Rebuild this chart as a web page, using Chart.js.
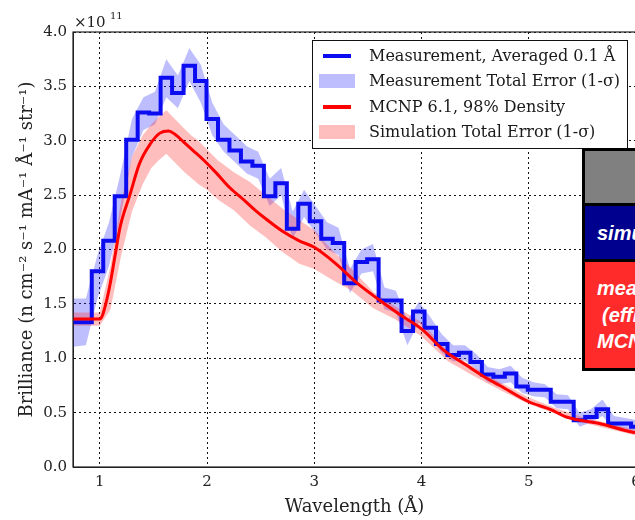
<!DOCTYPE html>
<html lang="en">
<head>
<meta charset="UTF-8">
<title>Brilliance vs Wavelength</title>
<script src="https://cdn.jsdelivr.net/npm/chart.js"></script>
<style>
  body { margin: 0; width: 635px; height: 520px; overflow: hidden; background: #fff; position: relative; }
  #wrap { position: absolute; left: 0; top: 0; width: 660px; height: 520px; }
  .boxes { position: absolute; left: 582px; top: 148px; width: 120px; height: 223px;
           background: #000; box-sizing: border-box; padding: 3px; display: flex; flex-direction: column; gap: 3px; }
  .boxes div { width: 100%; }
  .note { position: absolute; color: #fff; font: italic bold 20px "Liberation Sans", Arial, sans-serif;
          line-height: 20px; white-space: nowrap; }
</style>
</head>
<body>
<div id="wrap"><canvas id="chart" width="660" height="520"></canvas></div>

<div class="boxes">
  <div style="height:52px;background:#808080"></div>
  <div style="height:53px;background:#00008f"></div>
  <div style="height:106px;background:#ff2a2a"></div>
</div>
<div class="note" style="left:597px;top:223px">simulation</div>
<div class="note" style="left:597px;top:278px">measured</div>
<div class="note" style="left:602px;top:305px">(efficiency</div>
<div class="note" style="left:597px;top:331px">MCNP</div>

<script>
// all brilliance values in units of 1e11
const xTicks = [1, 2, 3, 4, 5, 6];
const yTicks = [0.0, 0.5, 1.0, 1.5, 2.0, 2.5, 3.0, 3.5, 4.0];

// measurement, 0.1 A averaged bins (bin start edge -> value)
const binEdges = [0.70, 0.925, 1.032, 1.139, 1.246, 1.353, 1.460, 1.567, 1.674, 1.781,
  1.888, 1.995, 2.102, 2.209, 2.316, 2.423, 2.530, 2.637, 2.744, 2.851,
  2.958, 3.065, 3.172, 3.279, 3.386, 3.493, 3.600, 3.707, 3.814, 3.921,
  4.028, 4.135, 4.242, 4.349, 4.456, 4.563, 4.670, 4.777, 4.884, 4.991,
  5.098, 5.205, 5.312, 5.419, 5.526, 5.633, 5.740, 5.847, 5.954, 6.061, 6.168];
const measured = [1.33, 1.80, 2.08, 2.49, 3.01, 3.26, 3.25, 3.58, 3.44, 3.69,
  3.55, 3.20, 3.01, 2.91, 2.81, 2.77, 2.49, 2.61, 2.19, 2.42,
  2.26, 2.10, 2.06, 1.69, 1.885, 1.91, 1.53, 1.53, 1.25, 1.43,
  1.28, 1.13, 1.03, 1.05, 0.966, 0.85, 0.83, 0.86, 0.74, 0.71,
  0.71, 0.60, 0.60, 0.43, 0.46, 0.53, 0.40, 0.40, 0.37, 0.36, 0.36];

// measurement total error band
const measBandX = [0.70, 0.87, 0.978, 1.086, 1.193, 1.30, 1.407, 1.514, 1.62, 1.728,
  1.835, 1.942, 2.049, 2.156, 2.263, 2.37, 2.477, 2.584, 2.691, 2.798,
  2.905, 3.012, 3.119, 3.226, 3.333, 3.44, 3.547, 3.654, 3.761, 3.868,
  3.975, 4.082, 4.189, 4.296, 4.403, 4.51, 4.617, 4.724, 4.831, 4.938,
  5.045, 5.152, 5.259, 5.366, 5.473, 5.58, 5.687, 5.794, 5.901, 6.008, 6.12];
const measBandLow = [1.10, 1.12, 1.55, 1.85, 2.30, 2.85, 3.10, 3.15, 3.40, 3.30,
  3.55, 3.35, 3.05, 2.90, 2.80, 2.70, 2.65, 2.40, 2.50, 2.10,
  2.30, 2.15, 2.00, 1.95, 1.60, 1.78, 1.80, 1.45, 1.42, 1.12,
  1.33, 1.20, 1.05, 0.97, 0.98, 0.90, 0.78, 0.76, 0.78, 0.68,
  0.65, 0.64, 0.54, 0.53, 0.37, 0.41, 0.47, 0.35, 0.34, 0.32, 0.31];
const measBandHigh = [1.55, 1.55, 1.95, 2.25, 2.70, 3.20, 3.40, 3.45, 3.75, 3.60,
  3.85, 3.70, 3.35, 3.15, 3.05, 2.95, 2.90, 2.65, 2.75, 2.35,
  2.55, 2.40, 2.25, 2.20, 1.82, 2.00, 2.05, 1.65, 1.62, 1.35,
  1.52, 1.38, 1.22, 1.12, 1.12, 1.04, 0.92, 0.90, 0.93, 0.82,
  0.78, 0.76, 0.67, 0.66, 0.50, 0.53, 0.62, 0.47, 0.45, 0.43, 0.42];

// MCNP 6.1 simulation
const simX = [0.70, 1.00, 1.03, 1.09, 1.14, 1.19, 1.28, 1.37, 1.47, 1.56,
  1.64, 1.70, 1.78, 1.87, 1.96, 2.09, 2.21, 2.35, 2.45, 2.55,
  2.70, 2.86, 3.00, 3.20, 3.40, 3.60, 3.80, 4.00, 4.20, 4.42,
  4.60, 4.73, 5.00, 5.20, 5.35, 5.66, 5.97, 6.20];
const simY = [1.36, 1.36, 1.41, 1.65, 1.93, 2.21, 2.50, 2.79, 2.97, 3.07,
  3.09, 3.06, 2.99, 2.91, 2.83, 2.70, 2.57, 2.45, 2.36, 2.28,
  2.17, 2.08, 2.02, 1.87, 1.69, 1.54, 1.40, 1.27, 1.08, 0.935,
  0.82, 0.75, 0.60, 0.53, 0.46, 0.40, 0.32, 0.29];

// simulation total error band
const simBandX = [0.70, 1.00, 1.10, 1.20, 1.30, 1.40, 1.48, 1.55, 1.62, 1.70,
  1.78, 1.85, 1.92, 2.00, 2.10, 2.25, 2.40, 2.55, 2.70, 2.86,
  3.00, 3.17, 3.35, 3.55, 3.75, 4.00, 4.25, 4.50, 4.75, 5.00,
  5.25, 5.50, 5.75, 6.00, 6.20];
const simBandLow = [1.30, 1.30, 1.45, 1.95, 2.35, 2.60, 2.75, 2.82, 2.88, 2.80,
  2.72, 2.66, 2.60, 2.55, 2.46, 2.36, 2.22, 2.11, 1.98, 1.87,
  1.82, 1.72, 1.62, 1.46, 1.36, 1.20, 0.97, 0.83, 0.70, 0.58,
  0.49, 0.41, 0.35, 0.29, 0.26];
const simBandHigh = [1.42, 1.42, 1.85, 2.45, 2.85, 3.05, 3.15, 3.22, 3.28, 3.20,
  3.12, 3.05, 3.00, 2.92, 2.82, 2.71, 2.62, 2.50, 2.38, 2.27,
  2.18, 1.99, 1.82, 1.61, 1.48, 1.33, 1.06, 0.91, 0.77, 0.64,
  0.54, 0.46, 0.40, 0.34, 0.31];

const legendLabels = [
  'Measurement, Averaged 0.1 \u00c5',
  'Measurement Total Error (1-\u03c3)',
  'MCNP 6.1, 98% Density',
  'Simulation Total Error (1-\u03c3)'
];

const blueLine = '#0c0cf0';
const redLine = '#ff0000';
const blueFill = 'rgba(40, 40, 255, 0.30)';
const redFill = 'rgba(255, 40, 40, 0.30)';
const serif = '"DejaVu Serif", serif';

function pts(xs, ys) { return xs.map((x, i) => ({ x: x, y: ys[i] })); }

const frameAndLegend = {
  id: 'frameAndLegend',
  afterDraw(chart) {
    const ctx = chart.ctx;
    const a = chart.chartArea;
    ctx.save();
    // axes frame
    ctx.strokeStyle = '#222';
    ctx.lineWidth = 1.2;
    ctx.strokeRect(a.left, a.top, a.right - a.left, a.bottom - a.top);

    // offset text
    ctx.fillStyle = '#222';
    ctx.textBaseline = 'alphabetic';
    ctx.font = '15px ' + serif;
    ctx.fillText('\u00d710', 74, 27);
    ctx.font = '10px ' + serif;
    ctx.fillText('11', 110, 19);

    // legend box
    ctx.fillStyle = '#fff';
    ctx.fillRect(312, 40, 315, 108);
    ctx.strokeStyle = '#111';
    ctx.lineWidth = 1;
    ctx.strokeRect(312.5, 40.5, 315, 108);
    const rows = [56, 81, 107, 132];
    const kinds = [
      { line: blueLine }, { fill: blueFill }, { line: redLine }, { fill: redFill }
    ];
    ctx.font = '16px ' + serif;
    ctx.textBaseline = 'middle';
    legendLabels.forEach((txt, i) => {
      const y = rows[i];
      const k = kinds[i];
      if (k.line) {
        ctx.strokeStyle = k.line;
        ctx.lineWidth = 4;
        ctx.beginPath();
        ctx.moveTo(323, y);
        ctx.lineTo(351, y);
        ctx.stroke();
      } else {
        ctx.fillStyle = k.fill;
        ctx.fillRect(319, y - 7, 36, 14);
      }
      ctx.fillStyle = '#1a1a1a';
      ctx.fillText(txt, 369, y + 1);
    });
    ctx.restore();
  }
};

new Chart(document.getElementById('chart'), {
  type: 'line',
  data: {
    datasets: [
      { data: pts(measBandX, measBandHigh), fill: '+1', backgroundColor: blueFill,
        borderWidth: 0, pointRadius: 0, order: 4 },
      { data: pts(measBandX, measBandLow), fill: false, borderWidth: 0, pointRadius: 0, order: 4 },
      { data: pts(simBandX, simBandHigh), fill: '+1', backgroundColor: redFill,
        borderWidth: 0, pointRadius: 0, order: 3 },
      { data: pts(simBandX, simBandLow), fill: false, borderWidth: 0, pointRadius: 0, order: 3 },
      // value of each bin holds from its start edge to the next one
      { data: pts(binEdges, measured), stepped: 'before', borderColor: blueLine, borderWidth: 4,
        pointRadius: 0, fill: false, order: 1 },
      { data: pts(simX, simY), borderColor: redLine, borderWidth: 3, pointRadius: 0,
        fill: false, cubicInterpolationMode: 'monotone', order: 0 }
    ]
  },
  options: {
    responsive: false,
    animation: false,
    layout: { padding: { left: 0, top: 32, right: 24, bottom: 0 } },
    plugins: { legend: { display: false }, tooltip: { enabled: false } },
    scales: {
      x: {
        type: 'linear',
        min: 0.75,
        max: 6.0,
        afterBuildTicks: s => { s.ticks = xTicks.map(v => ({ value: v })); },
        afterFit: s => { s.height = 53; },
        ticks: { font: { family: serif, size: 15 }, color: '#222', padding: 6 },
        grid: { color: '#111', lineWidth: 1, drawTicks: false },
        border: { display: true, color: '#222', dash: [2, 3] },
        title: { display: true, text: 'Wavelength (\u00c5)', color: '#222',
                 font: { family: serif, size: 18 }, padding: { top: 0, bottom: 2 } }
      },
      y: {
        min: 0,
        max: 4.0,
        afterBuildTicks: s => { s.ticks = yTicks.map(v => ({ value: v })); },
        afterFit: s => { s.width = 73; },
        ticks: { font: { family: serif, size: 15 }, color: '#222', padding: 6,
                 callback: v => v.toFixed(1) },
        grid: { color: '#111', lineWidth: 1, drawTicks: false },
        border: { display: true, color: '#222', dash: [2, 3] },
        title: { display: true,
                 text: 'Brilliance (n cm\u207b\u00b2 s\u207b\u00b9 mA\u207b\u00b9 \u00c5\u207b\u00b9 str\u207b\u00b9)',
                 color: '#222', font: { family: serif, size: 18 }, padding: { top: 17, bottom: 0 } }
      }
    }
  },
  plugins: [frameAndLegend]
});
</script>
</body>
</html>
